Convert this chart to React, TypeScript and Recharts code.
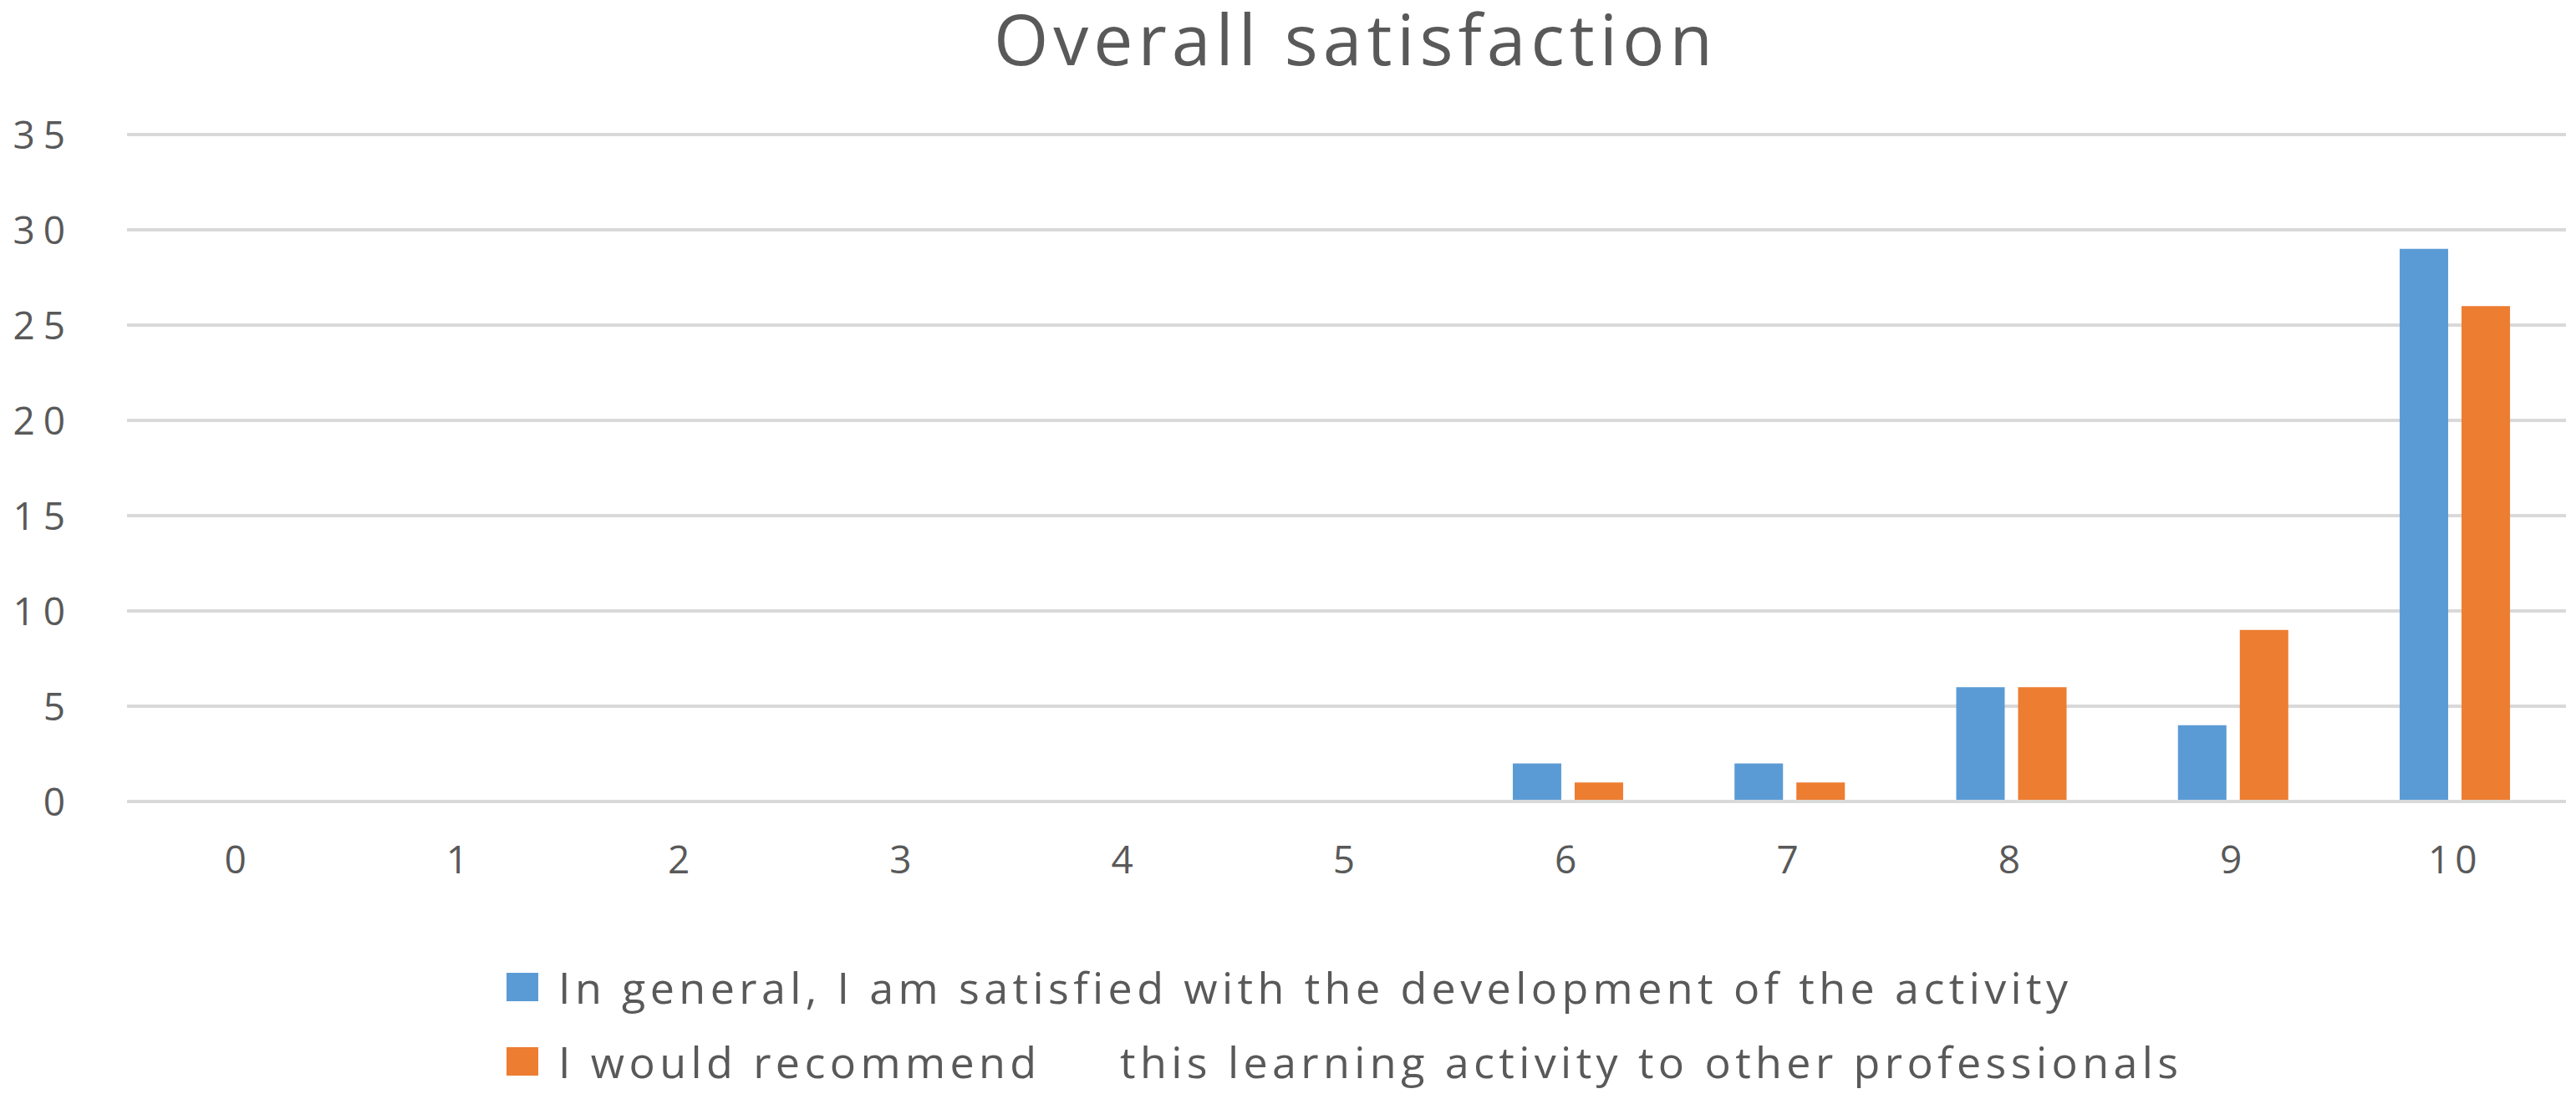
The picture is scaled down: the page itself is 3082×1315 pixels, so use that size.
import { BarChart, Bar, XAxis, YAxis, CartesianGrid, Legend } from "recharts";

const scores = ["0", "1", "2", "3", "4", "5", "6", "7", "8", "9", "10"];
const satisfied = [0, 0, 0, 0, 0, 0, 2, 2, 6, 4, 29];
const recommend = [0, 0, 0, 0, 0, 0, 1, 1, 6, 9, 26];
const yTicks = [0, 5, 10, 15, 20, 25, 30, 35];

const SERIES_SATISFIED = "In general, I am satisfied with the development of the activity";
const SERIES_RECOMMEND = "I would recommend     this learning activity to other professionals";
const legendOrder = [SERIES_SATISFIED, SERIES_RECOMMEND];

const BLUE = "#5b9bd5";
const ORANGE = "#ed7d31";
const TEXT = "#595959";
const GRID = "#d9d9d9";
const FONT = "'Open Sans', sans-serif";

const data = scores.map((score, i) => ({
  score,
  satisfied: satisfied[i],
  recommend: recommend[i],
}));

function YTick({ x, y, payload }: any) {
  return (
    <text x={x} y={y} dy="0.36em" textAnchor="end" fill={TEXT} fontSize={46} fontFamily={FONT} letterSpacing={10}>
      {payload.value}
    </text>
  );
}

function XTick({ x, y, payload }: any) {
  return (
    <text x={x} y={y} dy="0.36em" textAnchor="middle" fill={TEXT} fontSize={46} fontFamily={FONT} letterSpacing={6}>
      {payload.value}
    </text>
  );
}

function LegendBox({ payload }: any) {
  const items = [...(payload || [])].sort(
    (a: any, b: any) => legendOrder.indexOf(a.value) - legendOrder.indexOf(b.value)
  );
  return (
    <div style={{ fontFamily: FONT, color: TEXT, fontSize: 52, letterSpacing: 5.4 }}>
      {items.map((item: any) => (
        <div key={item.value} style={{ display: "flex", alignItems: "center", height: 89, whiteSpace: "pre" }}>
          <span style={{ display: "inline-block", width: 38, height: 34, background: item.color, marginRight: 24 }} />
          <span>{item.value}</span>
        </div>
      ))}
    </div>
  );
}

export default function App() {
  return (
    <div style={{ position: "relative", width: 3082, height: 1315, margin: -8, background: "#fff" }}>
      <BarChart
        width={3082}
        height={1315}
        data={data}
        margin={{ top: 161, right: 12, left: 0, bottom: 256 }}
        barCategoryGap="25%"
        barGap={16}
      >
        <CartesianGrid vertical={false} stroke={GRID} strokeWidth={4} />
        <XAxis
          dataKey="score"
          height={100}
          axisLine={{ stroke: GRID, strokeWidth: 4 }}
          tickLine={false}
          tickSize={0}
          tickMargin={69}
          tick={<XTick />}
          interval={0}
        />
        <YAxis
          width={152}
          domain={[0, 35]}
          ticks={yTicks}
          axisLine={false}
          tickLine={false}
          tickSize={0}
          tickMargin={64}
          tick={<YTick />}
          interval={0}
        />
        <Legend
          layout="vertical"
          align="center"
          verticalAlign="middle"
          wrapperStyle={{ top: 1136, left: 606, width: "auto" }}
          content={<LegendBox />}
        />
        <Bar dataKey="satisfied" name={SERIES_SATISFIED} fill={BLUE} isAnimationActive={false} />
        <Bar dataKey="recommend" name={SERIES_RECOMMEND} fill={ORANGE} isAnimationActive={false} />
      </BarChart>
      <div
        style={{
          position: "absolute",
          top: 4,
          left: 1622,
          transform: "translateX(-50%)",
          fontFamily: FONT,
          fontSize: 84,
          color: TEXT,
          letterSpacing: 6,
          lineHeight: "84px",
          whiteSpace: "nowrap",
        }}
      >
        Overall satisfaction
      </div>
    </div>
  );
}
